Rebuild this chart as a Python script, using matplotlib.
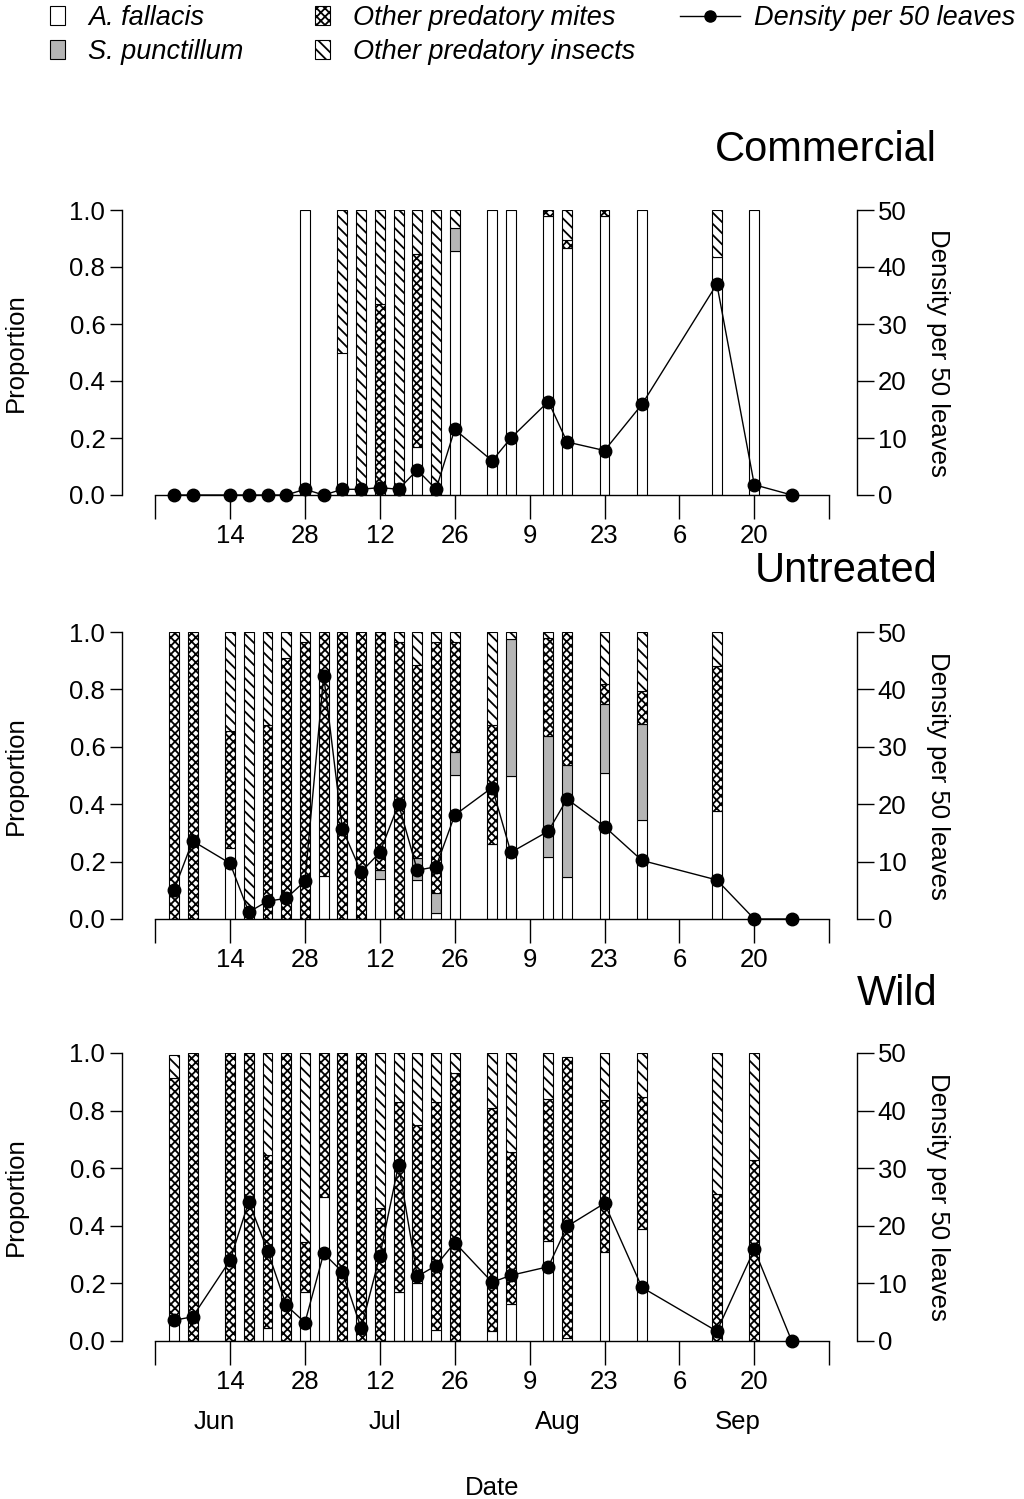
import matplotlib
matplotlib.use("Agg")
import matplotlib.pyplot as plt
import numpy as np
from matplotlib.patches import Patch
from matplotlib.lines import Line2D

plt.rcParams['font.family'] = ['Liberation Sans', 'DejaVu Sans']
plt.rcParams['hatch.linewidth'] = 1.3

# sampling days, counted as days after 31 May
days = [3.5, 7, 14, 17.5, 21, 24.5, 28, 31.5, 35, 38.5, 42, 45.5, 49, 52.5,
        56, 63, 66.5, 73.5, 77, 84, 91, 105, 112, 119]

# ---- Commercial ----
com_fallacis = [0, 0, 0, 0, 0, 0, 1.0, 0, 0.50, 0, 0, 0, 0.17, 0,
                0.857, 1.0, 1.0, 0.979, 0.866, 0.98, 1.0, 0.834, 1.0, 0]
com_punct = [0, 0, 0, 0, 0, 0, 0, 0, 0, 0, 0, 0, 0, 0,
             0.081, 0, 0, 0, 0, 0, 0, 0, 0, 0]
com_mites = [0, 0, 0, 0, 0, 0, 0, 0, 0, 0, 0.67, 0, 0.675, 0,
             0, 0, 0, 0.021, 0.03, 0.02, 0, 0, 0, 0]
com_insects = [0, 0, 0, 0, 0, 0, 0, 0, 0.50, 1.0, 0.33, 1.0, 0.155, 1.0,
               0.062, 0, 0, 0, 0.104, 0, 0, 0.166, 0, 0]
com_density = [0, 0, 0, 0, 0, 0, 1.0, 0, 1.0, 1.0, 1.3, 1.0, 4.4, 1.0,
               11.5, 6.0, 10.0, 16.4, 9.3, 7.8, 15.9, 37.0, 1.8, 0]

# ---- Untreated ----
unt_fallacis = [0, 0, 0.249, 0, 0, 0, 0, 0.151, 0, 0, 0.139, 0, 0.136, 0.02,
                0.502, 0.26, 0.499, 0.217, 0.145, 0.507, 0.345, 0.375, 0, 0]
unt_punct = [0, 0, 0, 0, 0, 0, 0, 0, 0, 0, 0.032, 0, 0.075, 0.069,
             0.081, 0, 0.475, 0.421, 0.392, 0.241, 0.334, 0, 0, 0]
unt_mites = [1.0, 1.0, 0.406, 0, 0.676, 0.908, 0.966, 0.849, 1.0, 1.0, 0.829, 0.966, 0.674, 0.877,
             0.383, 0.416, 0, 0.342, 0.463, 0.07, 0.116, 0.507, 0, 0]
unt_insects = [0, 0, 0.345, 1.0, 0.324, 0.092, 0.034, 0, 0, 0, 0, 0.034, 0.115, 0.034,
               0.034, 0.324, 0.026, 0.02, 0, 0.182, 0.205, 0.118, 0, 0]
unt_density = [5.0, 13.6, 9.7, 1.2, 3.1, 3.6, 6.6, 42.4, 15.7, 8.2, 11.6, 20.0, 8.5, 9.1,
               18.1, 22.9, 11.6, 15.3, 20.9, 16.1, 10.2, 6.8, 0, 0]

# ---- Wild ----
wld_fallacis = [0.06, 0, 0, 0, 0.044, 0, 0.171, 0.501, 0, 0, 0, 0.171, 0.203, 0.038,
                0, 0.035, 0.128, 0.348, 0.012, 0.308, 0.389, 0, 0, 0]
wld_punct = [0] * 24
wld_mites = [0.852, 1.0, 1.0, 1.0, 0.602, 1.0, 0.174, 0.499, 1.0, 1.0, 0.461, 0.66, 0.547, 0.793,
             0.929, 0.773, 0.528, 0.494, 0.975, 0.528, 0.459, 0.511, 0.627, 0]
wld_insects = [0.081, 0, 0, 0, 0.354, 0, 0.655, 0, 0, 0, 0.539, 0.169, 0.25, 0.169,
               0.071, 0.192, 0.344, 0.158, 0, 0.164, 0.152, 0.489, 0.373, 0]
wld_density = [3.6, 4.2, 14.0, 24.2, 15.7, 6.2, 3.2, 15.2, 12.0, 2.2, 14.8, 30.6, 11.2, 13.1,
               17.1, 10.2, 11.4, 12.9, 19.9, 23.9, 9.3, 1.7, 15.9, 0]

panel_titles = ["Commercial", "Untreated", "Wild"]
category_labels = ["A. fallacis", "S. punctillum", "Other predatory mites",
                   "Other predatory insects"]
density_label = "Density per 50 leaves"
tick_days = [0, 14, 28, 42, 56, 70, 84, 98, 112, 126]
tick_labels = ["", "14", "28", "12", "26", "9", "23", "6", "20", ""]
month_names = ["Jun", "Jul", "Aug", "Sep"]
month_pos = [11, 43, 75.3, 109]

panels = [
    (com_fallacis, com_punct, com_mites, com_insects, com_density),
    (unt_fallacis, unt_punct, unt_mites, unt_insects, unt_density),
    (wld_fallacis, wld_punct, wld_mites, wld_insects, wld_density),
]

styles = [
    dict(facecolor='white', hatch=None),
    dict(facecolor='#b5b5b5', hatch=None),
    dict(facecolor='white', hatch='xxxx'),
    dict(facecolor='white', hatch='\\\\\\'),
]

FS = 18.5
W, H = 1024, 1499
fig = plt.figure(figsize=(W / 100, H / 100), dpi=100)

# pixel geometry for panels: (top_px, bottom_px)
panel_px = [(210, 495), (632, 919), (1053, 1341)]
left_px, right_px = 122, 857
title_y = [150, 571, 994]

for i, (pdata, (tp, bp)) in enumerate(zip(panels, panel_px)):
    ax = fig.add_axes([left_px / W, 1 - bp / H, (right_px - left_px) / W, (bp - tp) / H])
    ax.set_xlim(-6.2, 131.2)
    ax.set_ylim(0, 1.0)
    fa, pu, mi, ins, dens = pdata
    x = np.array(days)
    bottom = np.zeros(len(days))
    for vals, st in zip([fa, pu, mi, ins], styles):
        v = np.array(vals, dtype=float)
        m = v > 0
        ax.bar(x[m], v[m], width=1.85, bottom=bottom[m], facecolor=st['facecolor'],
               edgecolor='black', linewidth=0.8, hatch=st['hatch'], zorder=2)
        bottom += v
    ax.spines['top'].set_visible(False)
    ax.spines['right'].set_visible(False)
    ax.spines['left'].set_bounds(0, 1)
    ax.spines['bottom'].set_bounds(0, 126)
    for s in ['left', 'bottom']:
        ax.spines[s].set_linewidth(1.0)
    ax.set_yticks([0, 0.2, 0.4, 0.6, 0.8, 1.0])
    ax.set_yticklabels(["0.0", "0.2", "0.4", "0.6", "0.8", "1.0"])
    ax.set_xticks(tick_days)
    ax.set_xticklabels(tick_labels)
    ax.tick_params(axis='y', direction='out', length=9, width=1, labelsize=FS, pad=3)
    ax.tick_params(axis='x', direction='out', length=17, width=1, labelsize=FS, pad=4)
    ax.set_ylabel("Proportion", fontsize=FS)
    ax.yaxis.set_label_coords(-0.128, 0.5)

    ax2 = ax.twinx()
    ax2.set_ylim(0, 50)
    for s in ['top', 'left', 'bottom']:
        ax2.spines[s].set_visible(False)
    ax2.spines['right'].set_bounds(0, 50)
    ax2.spines['right'].set_linewidth(1.0)
    ax2.set_yticks([0, 10, 20, 30, 40, 50])
    ax2.tick_params(axis='y', direction='out', length=12, width=1, labelsize=FS, pad=3)
    ax2.plot(days, dens, '-o', color='black', lw=1.0, ms=9, clip_on=False, zorder=5)
    ax2.set_ylabel(density_label, fontsize=FS, rotation=270, va='center')
    ax2.yaxis.set_label_coords(1.11, 0.5)

    fig.text(937 / W, 1 - title_y[i] / H, panel_titles[i], fontsize=30,
             ha='right', va='center')

    if i == 2:
        for name, pos in zip(month_names, month_pos):
            ax.text(pos, -0.28, name, fontsize=FS, ha='center', va='center',
                    transform=ax.get_xaxis_transform())
        ax.text(63, -0.51, "Date", fontsize=FS, ha='center', va='center',
                transform=ax.get_xaxis_transform())

# legends
h_cat = [Patch(facecolor=st['facecolor'], edgecolor='black', hatch=st['hatch'], linewidth=0.8)
         for st in styles]
lkw = dict(frameon=False, borderpad=0, borderaxespad=0,
           handlelength=0.55, handleheight=0.7, handletextpad=0.85, labelspacing=0.3,
           prop={'style': 'italic', 'size': 19.5})
leg1 = fig.legend(h_cat[:2], category_labels[:2], loc='upper left',
                  bbox_to_anchor=(50 / W, 1 - 5 / H), **lkw)
leg2 = fig.legend(h_cat[2:], category_labels[2:], loc='upper left',
                  bbox_to_anchor=(315 / W, 1 - 5 / H), **lkw)
h_den = Line2D([0], [0], color='black', lw=1.0, marker='o', ms=8)
leg3 = fig.legend([h_den], [density_label], loc='upper left',
                  bbox_to_anchor=(680 / W, 1 - 5 / H), frameon=False, borderpad=0,
                  borderaxespad=0, handlelength=2.2, handletextpad=0.55,
                  prop={'style': 'italic', 'size': 19.5})

fig.savefig("out.png", dpi=100)
